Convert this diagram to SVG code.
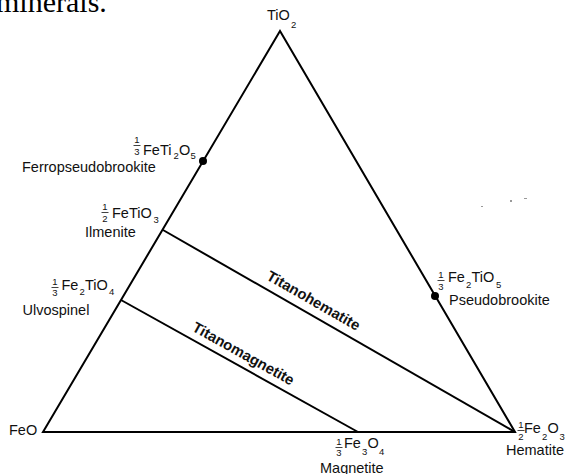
<svg xmlns="http://www.w3.org/2000/svg" width="566" height="474" viewBox="0 0 566 474">
<style>
text{font-family:"Liberation Sans",Arial,sans-serif;fill:#111;}
.nm{font-size:14.5px;}
.f{font-size:14.5px;}
.s{font-size:9.5px;}
.fr{font-size:9.5px;text-anchor:middle;}
.bar{stroke:#111;stroke-width:0.8;}
.ln{stroke:#000;stroke-width:2;fill:none;stroke-linejoin:miter;}
.lb{font-size:14.8px;font-weight:bold;text-anchor:middle;}
.dot{fill:#000;}
.top{font-family:"Liberation Serif","Times New Roman",serif;font-size:30px;fill:#000;}
</style>
<rect width="566" height="474" fill="#fff"/>
<text class="top" x="-4" y="12">minerals.</text>

<g id="connectors">
  <polygon class="ln" points="280,31 43,432 515,432"/>
  <line class="ln" x1="163" y1="230" x2="515" y2="432"/>
  <line class="ln" x1="121" y1="300" x2="358" y2="432"/>
  <text class="lb" transform="translate(311,305) rotate(29.85)">Titanohematite</text>
  <text class="lb" transform="translate(241,358) rotate(29.1)">Titanomagnetite</text>
</g>

<g id="TiO2">
  <text class="f" x="267" y="20">TiO</text>
  <text class="s" x="291" y="28">2</text>
</g>

<g id="FeO">
  <text class="f" x="9" y="435">FeO</text>
</g>

<g id="Ferropseudobrookite">
  <circle class="dot" cx="203" cy="161" r="4"/>
  <text class="fr" x="137" y="143">1</text>
  <line class="bar" x1="133.5" y1="145.5" x2="140.5" y2="145.5"/>
  <text class="fr" x="137" y="155">3</text>
  <text class="f" x="143" y="155">FeTi</text>
  <text class="s" x="173.5" y="159">2</text>
  <text class="f" x="179" y="155">O</text>
  <text class="s" x="190.5" y="159">5</text>
  <text class="nm" x="22" y="172">Ferropseudobrookite</text>
</g>

<g id="Ilmenite">
  <text class="fr" x="105" y="210">1</text>
  <line class="bar" x1="101.5" y1="212.5" x2="108.5" y2="212.5"/>
  <text class="fr" x="105" y="222">2</text>
  <text class="f" x="112" y="218">FeTiO</text>
  <text class="s" x="153.5" y="223">3</text>
  <text class="nm" x="85" y="237">Ilmenite</text>
</g>

<g id="Ulvospinel">
  <text class="fr" x="55" y="285">1</text>
  <line class="bar" x1="51.5" y1="287.5" x2="58.5" y2="287.5"/>
  <text class="fr" x="55" y="296">3</text>
  <text class="f" x="61.5" y="290">Fe</text>
  <text class="s" x="79.5" y="295">2</text>
  <text class="f" x="85" y="290">TiO</text>
  <text class="s" x="109" y="295">4</text>
  <text class="nm" x="22.5" y="315">Ulvospinel</text>
</g>

<g id="Pseudobrookite">
  <circle class="dot" cx="435" cy="296" r="4"/>
  <text class="fr" x="441" y="278">1</text>
  <line class="bar" x1="437.5" y1="280.5" x2="444.5" y2="280.5"/>
  <text class="fr" x="441" y="290">3</text>
  <text class="f" x="448" y="282">Fe</text>
  <text class="s" x="466" y="288">2</text>
  <text class="f" x="471.5" y="282">TiO</text>
  <text class="s" x="496" y="288">5</text>
  <text class="nm" x="449" y="305">Pseudobrookite</text>
</g>

<g id="Magnetite">
  <text class="fr" x="339" y="445">1</text>
  <line class="bar" x1="335.5" y1="447.5" x2="342.5" y2="447.5"/>
  <text class="fr" x="339" y="456">3</text>
  <text class="f" x="344" y="448">Fe</text>
  <text class="s" x="362" y="455">3</text>
  <text class="f" x="367.5" y="448">O</text>
  <text class="s" x="379" y="455">4</text>
  <text class="nm" x="320" y="473">Magnetite</text>
</g>

<g id="Hematite">
  <text class="fr" x="521" y="428">1</text>
  <line class="bar" x1="517.5" y1="430.5" x2="524.5" y2="430.5"/>
  <text class="fr" x="521" y="440">2</text>
  <text class="f" x="524" y="433">Fe</text>
  <text class="s" x="542" y="440">2</text>
  <text class="f" x="547.5" y="433">O</text>
  <text class="s" x="559.5" y="440">3</text>
  <text class="nm" x="506" y="455">Hematite</text>
</g>

<g id="specks" fill="#999">
  <rect x="481" y="206" width="2" height="1"/>
  <rect x="510" y="200" width="2" height="2"/>
  <rect x="524" y="198" width="3" height="1"/>
</g>
</svg>
